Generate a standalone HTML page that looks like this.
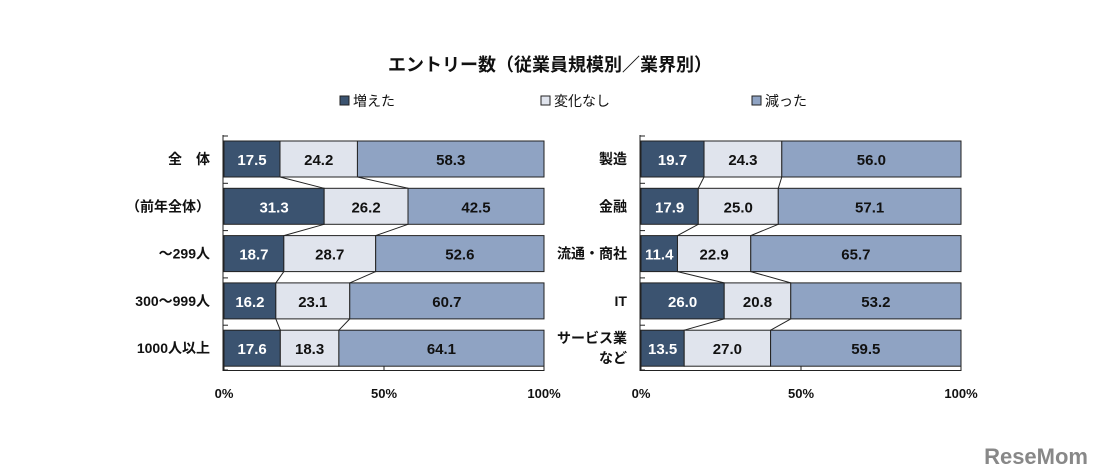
<!DOCTYPE html>
<html><head><meta charset="utf-8"><style>
body{margin:0;background:#fff;}
svg{display:block;font-family:"Liberation Sans","Noto Sans CJK JP",sans-serif;}
</style></head><body>
<svg id="c" width="1100" height="476">
<text x="550" y="71" text-anchor="middle" font-size="18" font-weight="bold" fill="#111">エントリー数（従業員規模別／業界別）</text>
<g font-size="14" fill="#111">
<g><rect x="340" y="96" width="9" height="9" fill="#3b5370" stroke="#222"/><text x="353" y="106">増えた</text></g>
<g><rect x="541" y="96" width="9" height="9" fill="#e0e4ed" stroke="#222"/><text x="554" y="106">変化なし</text></g>
<g><rect x="752" y="96" width="9" height="9" fill="#8fa3c3" stroke="#222"/><text x="765" y="106">減った</text></g>
</g>
<g id="left"></g>
<g id="right"></g>
<text x="1088" y="464" text-anchor="end" font-size="22" font-weight="bold" fill="#888">ReseMom</text>
</svg>
<script>
const leftCats=["全　体","（前年全体）","～299人","300～999人","1000人以上"];
const leftInc=[17.5,31.3,18.7,16.2,17.6];
const leftSame=[24.2,26.2,28.7,23.1,18.3];
const leftDec=[58.3,42.5,52.6,60.7,64.1];
const rightCats=["製造","金融","流通・商社","IT","サービス業|など"];
const rightInc=[19.7,17.9,11.4,26.0,13.5];
const rightSame=[24.3,25.0,22.9,20.8,27.0];
const rightDec=[56.0,57.1,65.7,53.2,59.5];
const ticks=["0%","50%","100%"];
const NS="http://www.w3.org/2000/svg";
const colors=["#3b5370","#e0e4ed","#8fa3c3"];
const txtCol=["#fff","#111","#111"];
function mk(tag,attrs,parent){const e=document.createElementNS(NS,tag);for(const k in attrs)e.setAttribute(k,attrs[k]);parent.appendChild(e);return e;}
function panel(g,x0,x1,cats,s1,s2,s3){
  const xs=v=>x0+(x1-x0)*v/100;
  const rowTop=i=>141+i*47.3, bh=36;
  const series=[s1,s2,s3];
  const ax=mk('line',{x1:x0-1,y1:135,x2:x0-1,y2:371,stroke:'#222'},g);
  
  const bx=mk('line',{x1:x0-1,y1:370.5,x2:x1,y2:370.5,stroke:'#222'},g);
  
  for(let i=0;i<=cats.length;i++){const yy=i<cats.length?rowTop(i)-5:370;mk('line',{x1:x0-1,y1:yy,x2:x0+4,y2:yy,stroke:'#222'},g);}
  ticks.forEach((t,k)=>{const xx=xs(k*50);mk('line',{x1:xx,y1:366,x2:xx,y2:371,stroke:'#222'},g);
    const tt=mk('text',{x:xx,y:398,'text-anchor':'middle','font-size':13,'font-weight':'bold',fill:'#111'},g);tt.textContent=t;
    });
  cats.forEach((c,i)=>{
    const y=rowTop(i);
    const parts=c.split('|');
    parts.forEach((p,j)=>{const t=mk('text',{x:x0-14,y:y+bh/2+5+(j-(parts.length-1)/2)*20,'text-anchor':'end','font-size':14,'font-weight':'bold',fill:'#111'},g);t.textContent=p;
      });
    let acc=0;
    series.forEach((s,k)=>{
      const v=s[i];const r=mk('rect',{x:xs(acc),y:y,width:xs(acc+v)-xs(acc),height:bh,fill:colors[k],stroke:'#222','stroke-width':1},g);
      
      const t=mk('text',{x:(xs(acc)+xs(acc+v))/2,y:y+bh/2+6,'text-anchor':'middle','font-size':15,'font-weight':'bold',fill:txtCol[k]},g);
      t.textContent=v.toFixed(1);
      
      acc+=v;
    });
    if(i<cats.length-1){
      const a1=s1[i],a2=s1[i]+s2[i],b1=s1[i+1],b2=s1[i+1]+s2[i+1];
      [[a1,b1],[a2,b2]].forEach(([a,b])=>{const l=mk('line',{x1:xs(a),y1:y+bh,x2:xs(b),y2:rowTop(i+1),stroke:'#222'},g);
        });
    }
  });
}
panel(document.getElementById('left'),224,544,leftCats,leftInc,leftSame,leftDec);
panel(document.getElementById('right'),641,961,rightCats,rightInc,rightSame,rightDec);
</script>
</body></html>
